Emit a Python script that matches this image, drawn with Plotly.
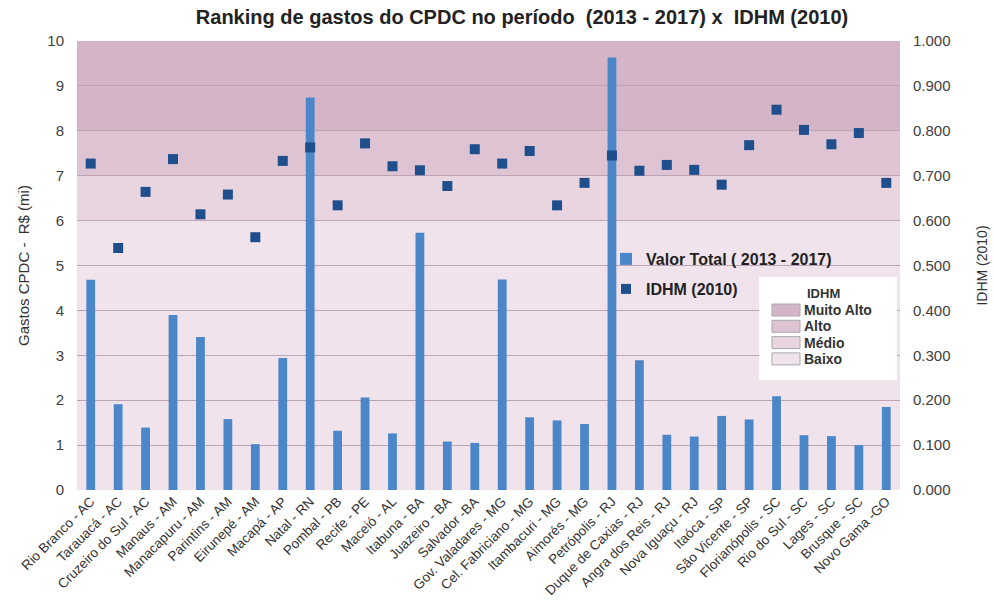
import plotly.graph_objects as go

# Municípios (eixo x)
municipios = [
    "Rio Branco - AC", "Tarauacá - AC", "Cruzeiro do Sul - AC", "Manaus - AM",
    "Manacapuru - AM", "Parintins - AM", "Eirunepé - AM", "Macapá - AP",
    "Natal - RN", "Pombal - PB", "Recife - PE", "Maceió - AL", "Itabuna - BA",
    "Juazeiro - BA", "Salvador -BA", "Gov. Valadares - MG", "Cel. Fabriciano - MG",
    "Itambacuri - MG", "Aimorés - MG", "Petrópolis - RJ", "Duque de Caxias - RJ",
    "Angra dos Reis - RJ", "Nova Iguaçu - RJ", "Itaóca - SP", "São Vicente - SP",
    "Florianópolis - SC", "Rio do Sul - SC", "Lages - SC", "Brusque - SC",
    "Novo Gama -GO",
]

# Gastos do CPDC 2013-2017, em milhões de R$
valor_total = [
    4.68, 1.91, 1.39, 3.90, 3.41, 1.58, 1.02, 2.94, 8.74, 1.32,
    2.06, 1.26, 5.73, 1.08, 1.05, 4.69, 1.62, 1.55, 1.47, 9.63,
    2.89, 1.23, 1.19, 1.65, 1.57, 2.09, 1.22, 1.20, 1.00, 1.85,
]

# IDHM 2010
idhm = [
    0.727, 0.539, 0.664, 0.737, 0.614, 0.658, 0.563, 0.733, 0.763, 0.634,
    0.772, 0.721, 0.712, 0.677, 0.759, 0.727, 0.755, 0.634, 0.684, 0.745,
    0.711, 0.724, 0.713, 0.680, 0.768, 0.847, 0.802, 0.770, 0.795, 0.684,
]

# Faixas de IDHM (fundo do gráfico)
faixas_nome = ["Muito Alto", "Alto", "Médio", "Baixo"]
faixas_ini = [0.8, 0.7, 0.6, 0.0]
faixas_fim = [1.0, 0.8, 0.7, 0.6]
faixas_cor = ["#d4b5c7", "#dec4d3", "#e9d5e0", "#f0e3eb"]

W, H = 994, 607
ML, MR, MT, MB = 77, 94, 41, 117
PW, PH = W - ML - MR, H - MT - MB


def px_x(x):
    return (x - ML) / PW


def px_y(y):
    return (H - MB - y) / PH


fig = go.Figure()

fig.add_trace(go.Bar(
    x=municipios, y=valor_total, name="Valor Total ( 2013 - 2017)",
    marker=dict(color="#4a86c8", line=dict(width=0)),
    width=0.32, yaxis="y", legend="legend", showlegend=True,
))

fig.add_trace(go.Scatter(
    x=municipios, y=idhm, name="IDHM (2010)", mode="markers",
    marker=dict(symbol="square", size=10, color="#1f4e8c"),
    yaxis="y2", legend="legend2", showlegend=True,
))

shapes = []
for ini, fim, cor in zip(faixas_ini, faixas_fim, faixas_cor):
    shapes.append(dict(type="rect", xref="paper", yref="y2", x0=0, x1=1,
                       y0=ini, y1=fim, fillcolor=cor, line=dict(width=0),
                       layer="below"))

# Legenda das faixas de IDHM
bx0, bx1, by0, by1 = 759, 897, 277, 380
shapes.append(dict(type="rect", xref="paper", yref="paper",
                   x0=px_x(bx0), x1=px_x(bx1), y0=px_y(by1), y1=px_y(by0),
                   fillcolor="white", line=dict(width=0), layer="above"))
annotations = [dict(text="<b>IDHM</b>", xref="paper", yref="paper",
                    x=px_x(823), y=px_y(293), xanchor="center",
                    yanchor="middle", showarrow=False,
                    font=dict(size=13, color="#333333"))]
for i, (nome, cor) in enumerate(zip(faixas_nome, faixas_cor)):
    yc = 310 + i * 16.3
    shapes.append(dict(type="rect", xref="paper", yref="paper",
                       x0=px_x(772), x1=px_x(800),
                       y0=px_y(yc + 6), y1=px_y(yc - 6),
                       fillcolor=cor, line=dict(width=1, color="#a9a9a9"),
                       layer="above"))
    annotations.append(dict(text=f"<b>{nome}</b>", xref="paper", yref="paper",
                            x=px_x(802), y=px_y(yc), xanchor="left",
                            yanchor="middle", showarrow=False,
                            font=dict(size=14, color="#333333")))

fig.update_layout(
    width=W, height=H,
    margin=dict(l=ML, r=MR, t=MT, b=MB, autoexpand=False),
    paper_bgcolor="white", plot_bgcolor="rgba(0,0,0,0)",
    font=dict(family="Liberation Sans, Arial, sans-serif", color="#333333"),
    showlegend=True,
    title=dict(text="<b>Ranking de gastos do CPDC no período  (2013 - 2017) x  IDHM (2010)</b>",
               x=522 / W, xref="container", xanchor="center",
               y=1 - 17 / H, yanchor="middle",
               font=dict(size=20, color="#222222")),
    xaxis=dict(range=[-0.5, len(municipios) - 0.5], tickangle=-45,
               tickfont=dict(size=13.5, color="#333333"),
               showgrid=False, showline=False, ticks="", automargin=False),
    yaxis=dict(range=[0, 10], dtick=1, showgrid=True, gridcolor="#bea3b4",
               gridwidth=1, zeroline=False, showline=False, automargin=False,
               tickfont=dict(size=15, color="#404040"), ticklabelstandoff=12,
               title=dict(text="Gastos CPDC -  R$ (mi)", standoff=14,
                          font=dict(size=15, color="#333333"))),
    yaxis2=dict(range=[0, 1], dtick=0.1, tickformat=".3f", overlaying="y",
                side="right", showgrid=False, zeroline=False, showline=False,
                automargin=False,
                tickfont=dict(size=15, color="#404040"), ticklabelstandoff=12,
                title=dict(text="IDHM (2010)", standoff=27,
                           font=dict(size=14, color="#333333"))),
    legend=dict(x=px_x(606), y=px_y(259), xanchor="left", yanchor="middle",
                bgcolor="rgba(0,0,0,0)", font=dict(size=16, color="#222222",
                                                   weight="bold"),
                itemwidth=30),
    legend2=dict(x=px_x(606), y=px_y(289), xanchor="left", yanchor="middle",
                 bgcolor="rgba(0,0,0,0)", font=dict(size=16, color="#222222",
                                                    weight="bold"),
                 itemwidth=30),
    shapes=shapes,
    annotations=annotations,
)

fig.write_html("out.html")
